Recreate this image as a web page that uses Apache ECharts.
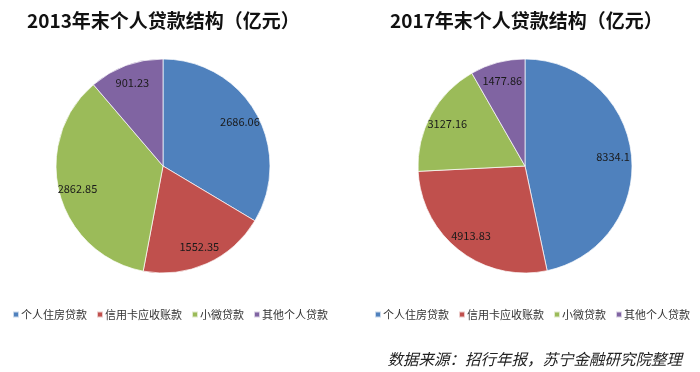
<!DOCTYPE html>
<html>
<head>
<meta charset="utf-8">
<script src="https://cdn.jsdelivr.net/npm/echarts@6/dist/echarts.min.js"></script>
<style>
html,body{margin:0;padding:0;background:#fff;}
#chart{width:700px;height:372px;}
</style>
</head>
<body>
<div id="chart"></div>
<script>
const categories = ['个人住房贷款', '信用卡应收账款', '小微贷款', '其他个人贷款'];
const values2013 = [2686.06, 1552.35, 2862.85, 901.23];
const values2017 = [8334.1, 4913.83, 3127.16, 1477.86];
const titles = ['2013年末个人贷款结构（亿元）', '2017年末个人贷款结构（亿元）'];
const sourceText = '数据来源：招行年报，苏宁金融研究院整理';
const colors = ['#4F81BD', '#C0504D', '#9BBB59', '#8064A2'];

const FONT = '"Noto Sans CJK SC", "Microsoft YaHei", sans-serif';
const chart = echarts.init(document.getElementById('chart'), null, {renderer: 'canvas'});

function mkData(vals) {
  return categories.map((c, i) => ({name: c, value: vals[i], itemStyle: {color: colors[i]}}));
}
function mainPie(vals, cx) {
  return {
    type: 'pie', center: [cx, 166], radius: 107, startAngle: 90, clockwise: true,
    label: {show: false}, labelLine: {show: false},
    itemStyle: {borderColor: 'rgba(255,255,255,0.7)', borderWidth: 1},
    emphasis: {scale: false},
    data: mkData(vals)
  };
}
function labelPie(vals, cx) {
  return {
    type: 'pie', center: [cx, 166], radius: [64, 107], startAngle: 90, clockwise: true,
    silent: true, legendHoverLink: false,
    itemStyle: {color: 'transparent', borderWidth: 0},
    label: {show: true, position: 'inside', color: '#1a1a1a', fontSize: 11, fontFamily: FONT,
      formatter: p => String(p.value)},
    labelLine: {show: false},
    data: categories.map((c, i) => ({name: c, value: vals[i]}))
  };
}
const legendData = categories.map((c, i) => ({name: c, itemStyle: {color: colors[i]}}));
function mkLegend(left) {
  return {
    data: legendData, left: left, top: 304, orient: 'horizontal',
    icon: 'rect', itemWidth: 6, itemHeight: 6, itemGap: 9,
    textStyle: {fontSize: 11, color: '#333', fontFamily: FONT, padding: [0, 0, 0, -3]}
  };
}

chart.setOption({
  animation: false,
  title: [
    {text: titles[0], left: 22, top: 6, textStyle: {fontSize: 19, fontWeight: 'bold', color: '#111', fontFamily: FONT}},
    {text: titles[1], left: 385, top: 6, textStyle: {fontSize: 19, fontWeight: 'bold', color: '#111', fontFamily: FONT}},
    {text: sourceText, right: 13, top: 346, textStyle: {fontSize: 15.5, fontWeight: 'normal', fontStyle: 'italic', color: '#222', fontFamily: FONT}}
  ],
  legend: [mkLegend(7), mkLegend(369)],
  series: [
    mainPie(values2013, 163), mainPie(values2017, 525),
    labelPie(values2013, 163), labelPie(values2017, 525)
  ]
});
</script>
</body>
</html>
